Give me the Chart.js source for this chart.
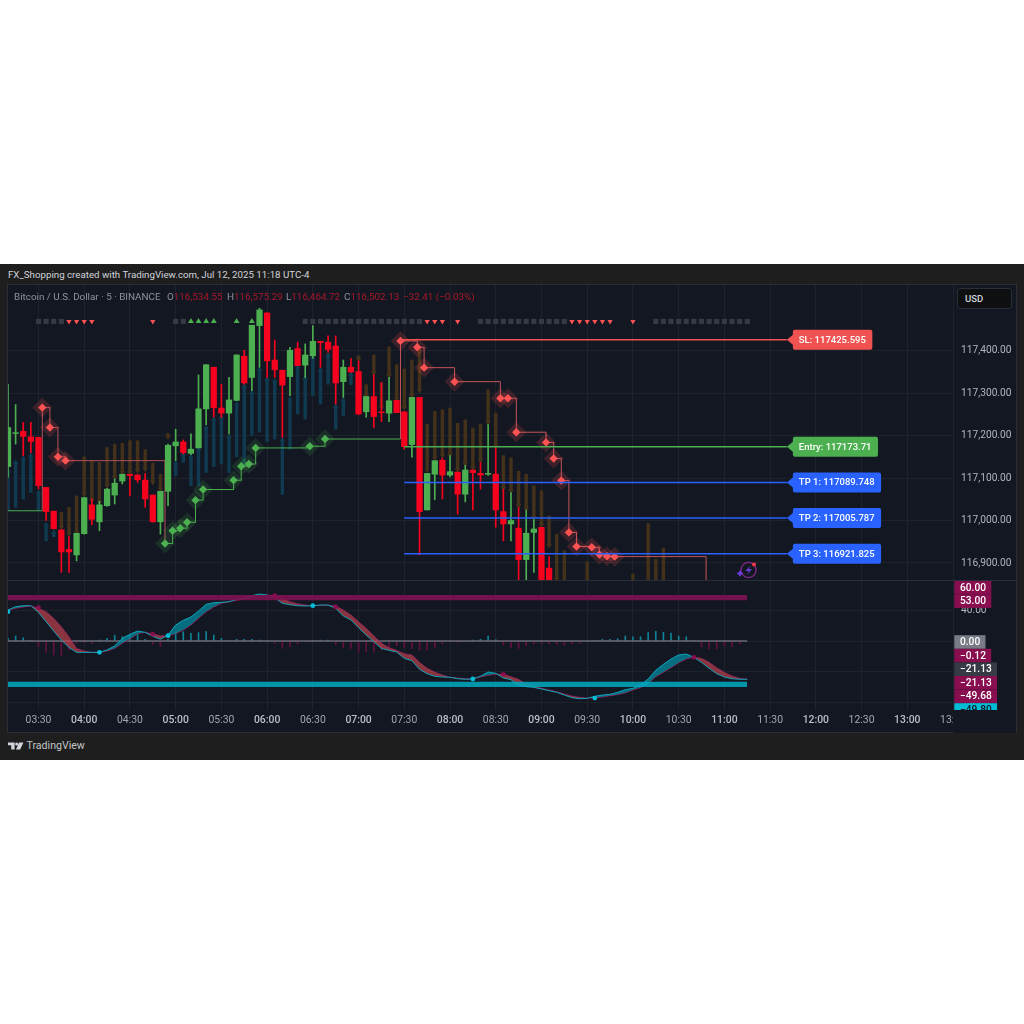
<!DOCTYPE html>
<html>
<head>
<meta charset="utf-8">
<script src="https://cdn.jsdelivr.net/npm/chart.js@4"></script>
<style>
html, body { margin: 0; background: #fff; }
body { width: 1024px; height: 1024px; position: relative; overflow: hidden; font-family: Roboto, sans-serif; }
#frame { position: absolute; left: 0; top: 264px; width: 1024px; height: 496px; background: #1e1e1e; }
#pane { position: absolute; left: 8px; top: 285px; width: 1008px; height: 447px; background: #131722; box-shadow: 0 0 0 1px #2a2e39; }
#sep { position: absolute; left: 8px; top: 580px; width: 1008px; height: 1px; background: #2a2e39; }
canvas { position: absolute; left: 8px; }
#priceChart { top: 285px; }
#oscChart { top: 581px; }
.t { position: absolute; white-space: nowrap; line-height: 12px; }
.top { top: 269px; left: 8px; font-size: 9.72px; color: #d1d4dc; }
.leg { top: 291px; font-size: 9.85px; color: #8f929c; }
.red { color: #a8182a; }
#usd { position: absolute; left: 957px; top: 288px; width: 55px; height: 21px; box-sizing: border-box; background: #0e0f10; border: 1px solid #2a2e39; border-radius: 3px; color: #d1d4dc; font-size: 9.5px; font-weight: 500; line-height: 19px; padding-left: 7px; }
#brand { left: 26.5px; top: 740px; font-size: 10.6px; color: #c4c6ca; }
svg { position: absolute; }
</style>
</head>
<body>
<div id="frame"></div>
<div id="pane"></div>
<canvas id="priceChart" width="1008" height="296"></canvas>
<canvas id="oscChart" width="1008" height="152"></canvas>
<div id="sep"></div>

<div class="t top">FX_Shopping created with TradingView.com, Jul 12, 2025 11:18 UTC-4</div>
<div class="t leg" style="left:14px">Bitcoin / U.S. Dollar · 5 · BINANCE</div>
<div class="t leg" style="left:167px">O<span class="red">116,534.55</span></div>
<div class="t leg" style="left:227px">H<span class="red">116,575.29</span></div>
<div class="t leg" style="left:286px">L<span class="red">116,464.72</span></div>
<div class="t leg" style="left:344px">C<span class="red">116,502.13</span></div>
<div class="t leg red" style="left:403px">−32.41 (−0.03%)</div>
<div id="usd">USD</div>

<svg style="left:8px;top:741px" width="16" height="10" viewBox="0 0 16 10">
  <path d="M0 1.5h6.6v7H3.2V4.3H0z" fill="#d1d4dc"/>
  <circle cx="8.6" cy="3" r="1.5" fill="#d1d4dc"/>
  <path d="M11 1.5h4.4L12.2 8.5H8z" fill="#d1d4dc"/>
</svg>
<div class="t" id="brand">TradingView</div>

<svg style="left:736px;top:559px" width="24" height="22" viewBox="0 0 24 22">
  <circle cx="12.5" cy="11" r="7.6" fill="none" stroke="#86288f" stroke-width="1.3"/>
  <path d="M14.5 6.5 L9.5 12 h3.4 L11 15.8 L16 10 h-3.2z" fill="#6d3fe0"/>
  <path d="M4 11 L5.2 13.3 L7.5 14.5 L5.2 15.7 L4 18 L2.8 15.7 L0.5 14.5 L2.8 13.3z" fill="#6d3fe0"/>
  <circle cx="18" cy="5.5" r="2" fill="#f23645"/>
</svg>

<script>
// bar numbers count from the 03:30 bar; the first drawn bar is -4
const firstBar = -4;
const timeLabels = ['03:30','04:00','04:30','05:00','05:30','06:00','06:30','07:00','07:30','08:00','08:30','09:00','09:30','10:00','10:30','11:00','11:30','12:00','12:30','13:00','13:30'];
const timeTicks = [0,6,12,18,24,30,36,42,48,54,60,66,72,78,84,90,96,102,108,114,120];
const priceTicks = [116900,117000,117100,117200,117300,117400];
const oscTicks = [-80,-40,0,40];

const candleOpen = [117127,117205,117210,117197,117196,117078,117022,116978,116932,116919,116969,117037,116997,117035,117060,117093,117109,117107,117095,117060,116997,117069,117176,117185,117158,117171,117263,117361,117265,117253,117283,117387,117337,117459,117489,117378,117354,117339,117405,117366,117388,117422,117420,117411,
  117327,117361,117351,117256,117292,117256,117253,117283,117256,117179,117290,117025,117109,117142,117107,117114,117062,117119,117111,117109,117109,117021,116992,116982,116908,116972,116984,116888];
const candleClose = [117219,117207,117198,117186,117082,117021,116981,116926,116926,116970,117054,117003,117037,117074,117088,117109,117106,117096,117051,116997,117069,117177,117185,117160,117168,117263,117367,117266,117253,117284,117390,117324,117460,117496,117376,117355,117319,117401,117365,117390,117422,117419,117403,117324,
  117361,117350,117251,117292,117245,117254,117282,117254,117174,117290,117021,117111,117141,117107,117115,117062,117119,117113,117107,117111,117025,116992,117000,116908,116970,116980,116861,116860];
const candleHigh = [117321,117273,117231,117231,117196,117078,117022,116978,116962,116970,117054,117051,117045,117076,117098,117109,117109,117109,117111,117060,117069,117180,117215,117190,117204,117343,117367,117361,117321,117337,117390,117401,117460,117500,117489,117425,117354,117408,117420,117416,117459,117422,117435,117435,
  117378,117382,117376,117292,117343,117325,117337,117283,117256,117290,117290,117111,117141,117147,117153,117114,117130,117119,117137,117226,117172,117074,117066,117031,117025,117002,116984,116915];
const candleLow = [117102,117180,117153,117160,117074,117000,116980,116878,116878,116905,116968,116990,116976,117033,117039,117086,117058,117090,117031,116996,116968,117035,117141,117157,117155,117171,117226,117244,117243,117204,117282,117321,117306,117361,117337,117337,117196,117294,117365,117337,117382,117361,117396,117274,
  117290,117349,117249,117243,117219,117233,117233,117254,117168,117149,116919,117025,117049,117051,117103,117015,117044,117025,117074,117106,116984,116952,116952,116840,116840,116878,116850,116845];

const sellBars = [3,4,5,6,7,8,9,10,11,12,13,14,15,16,17,42,43,44,45,46,47,48,49,50,51,52,53,54,55,56,57,58,59,60,61,62,63,64,65,66,67,68,69,72,78,80,81,82];
const sellTop = [117019,117031,117058,117150,117141,117137,117172,117180,117182,117188,117188,117167,117135,117109,117205,117388,117320,117390,117325,117409,117367,117357,117378,117408,117227,117257,117261,117265,117229,117237,117218,117227,117308,117253,117153,117148,117116,117109,117082,117070,117011,116968,116929,116903,116874,116993,116909,116935];
const sellBottom = [116984,116968,116972,117062,117048,117043,117082,117102,117113,117113,117117,117121,117090,117074,117197,117380,117294,117347,117266,117341,117286,117266,117294,117306,117119,117147,117153,117154,117119,117133,117124,117141,117231,117176,117076,117070,117035,117027,117007,116989,116941,116862,116830,116830,116830,116830,116830,116830];

const buyBars = [-4,-3,-2,-1,0,1,2,18,19,20,21,22,23,24,25,26,27,28,29,30,31,32,33,34,35,36,37,38,39,40,41];
const buyTop = [117117,117137,117146,117153,117066,116990,116972,117135,117157,117150,117168,117219,117239,117243,117198,117274,117317,117302,117357,117333,117329,117190,117286,117361,117335,117384,117355,117390,117269,117284,117345];
const buyBottom = [117023,117031,117051,117066,117023,116952,116962,117106,117137,117082,117082,117113,117127,117133,117113,117150,117129,117200,117208,117186,117192,117061,117168,117251,117239,117294,117274,117321,117215,117247,117320];

const stepGreenStartX = [-4,0.5];
const stepGreenStartY = [117023,117023];
const stepRedAX = [0.5,0.5,1.5,2.55,3.55,16.6];
const stepRedAY = [117023,117266,117219,117150,117141,116946];
const stepGreenX = [16.6,17.6,18.6,19.5,20.6,21.6,25.6,26.6,27.6,28.5,35.6,37.6,47.5];
const stepGreenY = [116946,116976,116982,116996,117048,117073,117095,117128,117133,117171,117175,117192,117192];
const stepRedBX = [47.5,47.5,49.7,50.6,54.6,60.6,61.6,62.7,66.6,67.6,68.6,69.6,70.6,72.6,73.6,74.6,75.6,87.6];
const stepRedBY = [117192,117423,117408,117360,117327,117288,117288,117208,117184,117146,117094,116972,116939,116937,116920,116916,116915,116800];

const redMarkerX = [0.5,1.5,2.55,3.55,47.5,49.7,50.6,54.6,60.6,61.6,62.7,66.6,67.6,68.6,69.6,70.6,72.6,73.6,74.6,75.6];
const redMarkerY = [117266,117219,117150,117141,117423,117408,117360,117327,117288,117288,117208,117184,117146,117094,116972,116939,116937,116920,116916,116915];
const greenMarkerX = [16.6,17.6,18.6,19.5,20.6,21.6,25.6,26.6,27.6,28.5,35.6,37.6];
const greenMarkerY = [116946,116976,116982,116996,117048,117073,117095,117128,117133,117171,117175,117192];

const signalRowPrice = 117469;
const neutralSignals = [0,1,2,3,18,19,35,36,37,38,39,40,41,42,43,44,45,46,47,48,49,50,58,59,60,61,62,63,64,65,66,67,68,69,81,82,83,84,85,86,87,88,89,90,91,92,93];
const sellSignals = [4,5,6,7,15,51,52,53,55,70,71,72,73,74,75,78];
const buySignals = [20,21,22,23,26,28];

const levelNames = ['SL: 117425.595','Entry: 117173.71','TP 1: 117089.748','TP 2: 117005.787','TP 3: 116921.825'];
const levelPrices = [117425.595,117173.71,117089.748,117005.787,116921.825];
const levelColors = ['#f05252','#4caf50','#2962ff','#2962ff','#2962ff'];
const levelStart = [47.5,48,48,48,48];
const levelEnd = 98.2;

const oscFast = [40.4,44.7,46.0,46.0,37.3,25.2,13.0,1.3,-8.3,-14.8,-14.8,-14.8,-14.8,-11.7,-6.5,3.5,8.7,13.0,11.3,6.1,2.2,7.8,20.8,26.9,31.3,39.1,47.8,49.9,50.4,51.2,54.3,55.6,59.1,61.2,59.9,56.5,49.1,47.3,46.0,45.6,46.0,46.9,46.9,42.6,
  32.6,27.4,17.4,7.8,-0.9,-9.6,-12.2,-14.3,-22.6,-25.6,-36.9,-42.6,-46.0,-46.9,-47.3,-49.1,-49.9,-49.5,-46.0,-40.4,-42.1,-48.2,-50.4,-57.3,-59.5,-60.4,-62.5,-64.7,-66.9,-70.4,-73.8,-75.1,-74.7,-72.1,-70.4,-69.5,-66.9,-63.4,-61.7,-57.3,-49.5,-38.2,-30.4,-23.5,-18.2,-16.9,-21.3,-27.8,-35.6,-42.6,-46.9,-49.1,-49.9,-49.9];
const oscSlow = [40.4,42.6,44.3,45.6,42.6,38.2,29.5,18.7,5.6,-9.6,-13.0,-14.8,-14.8,-13.0,-9.6,-3.0,2.6,9.6,11.3,9.1,6.9,6.9,9.6,14.3,20.8,29.5,38.2,44.3,49.1,51.2,53.0,54.7,57.8,59.9,59.9,59.1,55.6,51.2,48.6,46.9,46.0,46.5,46.9,45.6,
  40.4,33.9,25.2,16.5,6.9,-3.0,-8.7,-12.2,-16.5,-18.2,-27.8,-35.6,-40.4,-44.3,-47.3,-48.2,-49.1,-49.5,-46.9,-44.7,-43.4,-43.0,-46.5,-49.9,-56.0,-58.6,-61.7,-63.8,-66.0,-69.1,-71.7,-73.4,-74.3,-74.3,-73.0,-71.2,-69.9,-67.8,-63.8,-60.8,-55.6,-46.5,-40.8,-34.7,-28.2,-23.5,-20.8,-22.6,-27.8,-34.7,-40.8,-45.6,-48.6,-49.9];
const oscHist = [3.5,6.5,4.3,0.4,-7.4,-14.8,-18.2,-19.1,-11.7,-3.0,-2.2,-3.0,1.3,3.5,7.4,5.6,8.7,9.1,2.2,-4.3,-7.4,2.2,11.3,12.2,10.0,10.9,12.2,7.8,3.5,0.9,2.2,2.2,2.2,1.3,0.4,-3.0,-9.6,-7.4,-3.9,-1.3,0.4,1.3,1.3,-4.3,
  -8.7,-9.6,-14.8,-13.9,-14.8,-11.7,-8.3,-6.5,-8.7,-9.6,-11.7,-11.7,-8.7,-3.9,-1.3,-1.7,-0.9,1.3,2.2,6.5,1.7,-5.2,-8.3,-9.6,-6.5,-3.9,-3.0,-3.9,-4.3,-5.2,-3.9,-3.0,-0.9,0.4,2.2,2.2,3.0,6.5,5.6,5.6,10.9,12.6,11.3,10.4,6.5,5.6,0.4,-7.8,-10.4,-10.4,-6.5,-7.4,-3.9,-0.9];
const crossUpX = [-4,8,17,36,57,73];
const crossUpY = [38.2,-14.8,6.9,46.0,-49.5,-74.3];
const crossDownX = [0,15,31,39,61,86];
const crossDownY = [43.4,8.7,59.1,44.3,-43.4,-21.3];
const lastOscBar = 93;
const upperBand = [53,60];
const lowerBand = [-60,-53];

const oscTagsUp = [['53.00','#880e4f','#fff'],['60.00','#880e4f','#fff']];
const oscTagsDown = [['0.00','#787b86','#fff'],['−0.12','#880e4f','#fff'],['−21.13','#363a45','#fff'],['−21.13','#880e4f','#fff'],['−49.68','#880e4f','#fff'],['−49.80','#00bcd4','#131722']];

const gridColor = '#1e222d';
const upColor = '#4caf50', downColor = '#f7021e';
const sellColor = '#43311a', buyColor = '#0f3a4f';
const font = 'Roboto';

const barRange = arr => arr.map((v, k) => k + firstBar);
const pairs = (xs, ys) => xs.map((x, k) => ({ x: x, y: ys[k] }));
const candleColors = candleOpen.map((o, k) => candleClose[k] >= o ? upColor : downColor);
const candleX = barRange(candleOpen);

function hardBox(size) {
  return function (scale) {
    if (size.width !== undefined) scale.width = size.width;
    if (size.height !== undefined) scale.height = size.height;
    scale.paddingTop = scale.paddingBottom = scale.paddingLeft = scale.paddingRight = 0;
  };
}
const fixedTicks = list => scale => { scale.ticks = list.map(v => ({ value: v })); };

function stepLine(xs, ys, color, order) {
  return { type: 'line', data: pairs(xs, ys), borderColor: color, borderWidth: 1, stepped: true, pointRadius: 0, fill: false, order: order };
}
function points(xs, ys, style, radius, color, order, rotation) {
  return { type: 'line', data: pairs(xs, ys), showLine: false, pointStyle: style, pointRadius: radius, pointBorderWidth: 0, pointBackgroundColor: color, pointRotation: rotation || 0, order: order };
}
function floatBars(xs, lo, hi, width, color, order) {
  return { type: 'bar', data: xs.map((x, k) => ({ x: x, y: [lo[k], hi[k]] })), barThickness: width, grouped: false, backgroundColor: color, borderWidth: 0, order: order };
}

// level lines end in a price tag drawn on top of the chart
const levelTags = {
  id: 'levelTags',
  afterDraw(chart) {
    const c = chart.ctx, x = chart.scales.x, y = chart.scales.y;
    c.save();
    c.font = '500 9.5px ' + font;
    c.textBaseline = 'middle';
    levelNames.forEach((name, k) => {
      const tip = x.getPixelForValue(levelEnd), py = y.getPixelForValue(levelPrices[k]);
      const left = tip + 6, w = c.measureText(name).width + 12.5;
      c.fillStyle = levelColors[k];
      c.beginPath();
      c.moveTo(tip, py);
      c.lineTo(left, py - 5);
      c.lineTo(left, py + 5);
      c.closePath();
      c.roundRect(left, py - 10, w, 20, 2);
      c.fill();
      c.fillStyle = '#fff';
      c.fillText(name, left + 6, py + 0.5);
    });
    c.restore();
  }
};

// value tags over the oscillator axis, pushed apart like the real ones
const oscAxisTags = {
  id: 'oscAxisTags',
  afterDraw(chart) {
    const c = chart.ctx, y = chart.scales.y, area = chart.chartArea, slot = 13.6;
    c.save();
    c.fillStyle = '#131722';
    c.fillRect(area.right, area.bottom, chart.width - area.right, chart.height - area.bottom);
    c.beginPath();
    c.rect(area.right, area.top, chart.width - area.right, area.bottom - area.top);
    c.clip();
    c.font = '500 10.2px ' + font;
    c.textBaseline = 'middle';
    const draw = (tag, py) => {
      const w = c.measureText(tag[0]).width + 11;
      c.fillStyle = tag[1];
      c.fillRect(area.right + 1.3, py - slot / 2, w, slot);
      c.fillStyle = tag[2];
      c.fillText(tag[0], area.right + 7, py + 0.5);
    };
    oscTagsUp.forEach((tag, k) => draw(tag, y.getPixelForValue(53) + 0.8 - k * slot));
    oscTagsDown.forEach((tag, k) => draw(tag, y.getPixelForValue(0) + 1 + k * slot));
    c.restore();
  }
};

const axisLabel = v => v.toLocaleString('en-US', { minimumFractionDigits: 2, maximumFractionDigits: 2 });

new Chart(document.getElementById('priceChart'), {
  type: 'bar',
  plugins: [levelTags],
  data: {
    datasets: [
      // wicks and candle bodies sit on the top
      floatBars(candleX, candleLow, candleHigh, 1, candleColors, 2),
      floatBars(candleX, candleOpen, candleClose, 5.6, candleColors, 1),
      // levels
      ...levelNames.map((n, k) => ({ type: 'line', data: pairs([levelStart[k], levelEnd], [levelPrices[k], levelPrices[k]]), borderColor: levelColors[k], borderWidth: 1.5, pointRadius: 0, order: 0 })),
      points(redMarkerX, redMarkerY, 'rectRot', 4.2, '#ff5252', 3),
      points(greenMarkerX, greenMarkerY, 'rectRot', 4.2, '#4caf50', 3),
      points(redMarkerX, redMarkerY, 'rectRot', 10, 'rgba(255,82,82,.18)', 4),
      points(greenMarkerX, greenMarkerY, 'rectRot', 10, 'rgba(76,175,80,.16)', 4),
      stepLine(stepGreenStartX, stepGreenStartY, '#4caf50', 5),
      stepLine(stepRedAX, stepRedAY, '#b55157', 5),
      stepLine(stepGreenX, stepGreenY, '#4caf50', 5),
      stepLine(stepRedBX, stepRedBY, '#c4555a', 5),
      points(sellBars, sellBottom, 'triangle', 3.2, sellColor, 6, 180),
      points(buyBars, buyTop, 'triangle', 3.2, buyColor, 6),
      floatBars(sellBars, sellBottom, sellTop, 2.8, sellColor, 7),
      floatBars(buyBars, buyBottom, buyTop, 2.8, buyColor, 7),
      points(neutralSignals, neutralSignals.map(() => signalRowPrice), 'rect', 3.6, '#363a45', 8),
      points(sellSignals, sellSignals.map(() => signalRowPrice), 'triangle', 3, '#ff5252', 8, 180),
      points(buySignals, buySignals.map(() => signalRowPrice), 'triangle', 3.4, '#4caf50', 8)
    ]
  },
  options: {
    responsive: false,
    animation: false,
    devicePixelRatio: 1,
    layout: { padding: 0, autoPadding: false },
    plugins: { legend: { display: false }, tooltip: { enabled: false } },
    scales: {
      x: {
        type: 'linear', bounds: 'data', offset: false, min: -4, max: 120,
        afterBuildTicks: fixedTicks(timeTicks),
        afterFit: hardBox({ height: 0 }),
        border: { display: false },
        grid: { color: gridColor, drawTicks: false, offset: false },
        ticks: { display: false, autoSkip: false }
      },
      y: {
        position: 'right', bounds: 'data', min: 116857.6, max: 117554.7,
        afterBuildTicks: fixedTicks(priceTicks),
        afterFit: hardBox({ width: 63 }),
        border: { display: false },
        grid: { color: gridColor, drawTicks: false },
        ticks: { padding: 8, color: '#b2b5be', font: { family: font, size: 10.2 }, callback: axisLabel }
      }
    }
  }
});

new Chart(document.getElementById('oscChart'), {
  type: 'bar',
  plugins: [oscAxisTags],
  data: {
    datasets: [
      // bands stay above the lines
      { type: 'line', data: pairs([firstBar, lastOscBar], [upperBand[1], upperBand[1]]), borderWidth: 0, pointRadius: 0, fill: { value: upperBand[0] }, backgroundColor: 'rgba(124,18,80,.92)', order: 1 },
      { type: 'line', data: pairs([firstBar, lastOscBar], [lowerBand[1], lowerBand[1]]), borderWidth: 0, pointRadius: 0, fill: { value: lowerBand[0] }, backgroundColor: 'rgba(0,172,193,.85)', order: 1 },
      points(crossUpX, crossUpY, 'circle', 2.4, '#00bcd4', 0),
      points(crossDownX, crossDownY, 'circle', 2.4, '#880e4f', 0),
      { type: 'line', data: pairs(barRange(oscFast), oscFast), borderColor: '#0fa3b8', borderWidth: 1, pointRadius: 0, fill: { target: 5, above: 'rgba(0,140,160,.75)', below: 'rgba(190,65,75,.7)' }, order: 2 },
      { type: 'line', data: pairs(barRange(oscSlow), oscSlow), borderColor: '#880e4f', borderWidth: 1, pointRadius: 0, fill: false, order: 3 },
      { type: 'line', data: pairs([firstBar, lastOscBar], [0, 0]), borderColor: '#6a6d78', borderWidth: 1.4, pointRadius: 0, order: 4 },
      { type: 'bar', data: pairs(barRange(oscHist), oscHist), barThickness: 1, grouped: false, backgroundColor: oscHist.map(v => v >= 0 ? '#0e8296' : '#621040'), order: 5 }
    ]
  },
  options: {
    responsive: false,
    animation: false,
    devicePixelRatio: 1,
    layout: { padding: 0, autoPadding: false },
    plugins: { legend: { display: false }, tooltip: { enabled: false } },
    scales: {
      x: {
        type: 'linear', bounds: 'data', offset: false, min: -4, max: 120,
        afterBuildTicks: fixedTicks(timeTicks),
        afterFit: hardBox({ height: 23 }),
        border: { display: false },
        grid: { color: gridColor, drawTicks: false, offset: false },
        ticks: {
          autoSkip: false, maxRotation: 0, padding: 4,
          color: ctx => ctx.tick.value % 12 === 6 ? '#bcbfc6' : '#a3a6af',
          font: ctx => ({ family: font, size: 10.4, weight: ctx.tick && ctx.tick.value % 12 === 6 ? '500' : '400' }),
          callback: v => timeLabels[v / 6]
        }
      },
      y: {
        position: 'right', bounds: 'data', min: -89.9, max: 78.2,
        afterBuildTicks: fixedTicks(oscTicks),
        afterFit: hardBox({ width: 63 }),
        border: { display: false },
        grid: { color: gridColor, drawTicks: false },
        ticks: { padding: 8, color: '#b2b5be', font: { family: font, size: 10.2 }, callback: axisLabel }
      }
    }
  }
});
</script>
</body>
</html>
